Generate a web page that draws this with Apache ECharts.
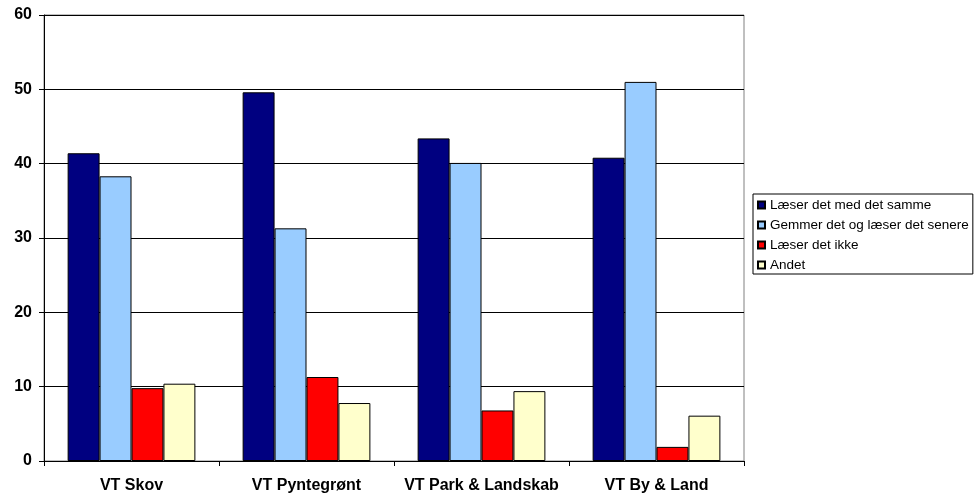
<!DOCTYPE html>
<html><head><meta charset="utf-8">
<script src="https://cdn.jsdelivr.net/npm/echarts@6/dist/echarts.min.js"></script>
<style>html,body{margin:0;padding:0;background:#fff}#c{width:976px;height:496px}</style>
</head><body><div id="c"></div>
<script>
const categories = ["VT Skov", "VT Pyntegrønt", "VT Park & Landskab", "VT By & Land"];
const seriesNames = ["Læser det med det samme", "Gemmer det og læser det senere", "Læser det ikke", "Andet"];
const s1 = [41.4, 49.6, 43.4, 40.8];
const s2 = [38.3, 31.3, 40.1, 51.0];
const s3 = [9.8, 11.3, 6.8, 1.9];
const s4 = [10.4, 7.8, 9.4, 6.1];
const yTicks = [0, 10, 20, 30, 40, 50, 60];
const colors = ["#000080", "#99CCFF", "#FF0000", "#FFFFCC"];

const chart = echarts.init(document.getElementById('c'), null, {renderer: 'canvas'});
const data = [s1, s2, s3, s4];
chart.setOption({
  animation: false,
  textStyle: {fontFamily: 'Liberation Sans, Arial, sans-serif'},
  grid: {left: 44, right: 232, top: 15, bottom: 35, show: true, borderColor: '#808080', borderWidth: 1, backgroundColor: 'transparent'},
  legend: {
    orient: 'vertical', left: 753, top: 194,
    itemWidth: 7, itemHeight: 7, itemGap: 6,
    padding: [4, 4, 2, 4],
    borderColor: '#000', borderWidth: 1,
    icon: 'rect',
    textStyle: {fontSize: 13.5, lineHeight: 14, color: '#000', padding: [0, 0, 0, 0]},
    data: seriesNames
  },
  xAxis: {
    type: 'category', data: categories,
    axisLine: {lineStyle: {color: '#000', width: 1}},
    axisTick: {show: true, length: 5, interval: 0, lineStyle: {color: '#000'}},
    axisLabel: {interval: 0, hideOverlap: false, fontWeight: 'bold', fontSize: 16, color: '#000', margin: 17}
  },
  yAxis: {
    type: 'value', min: yTicks[0], max: yTicks[yTicks.length - 1], interval: 10,
    axisLine: {show: true, lineStyle: {color: '#000', width: 1}},
    axisTick: {show: true, length: 5, lineStyle: {color: '#000'}},
    axisLabel: {fontWeight: 'bold', fontSize: 16, color: '#000', margin: 12},
    splitLine: {lineStyle: {color: '#000', width: 1}}
  },
  series: seriesNames.map((n, i) => ({
    name: n, type: 'bar', data: data[i],
    barGap: '0%', barCategoryGap: '27%',
    itemStyle: {color: colors[i], borderColor: '#000', borderWidth: 1}
  }))
});
</script></body></html>
